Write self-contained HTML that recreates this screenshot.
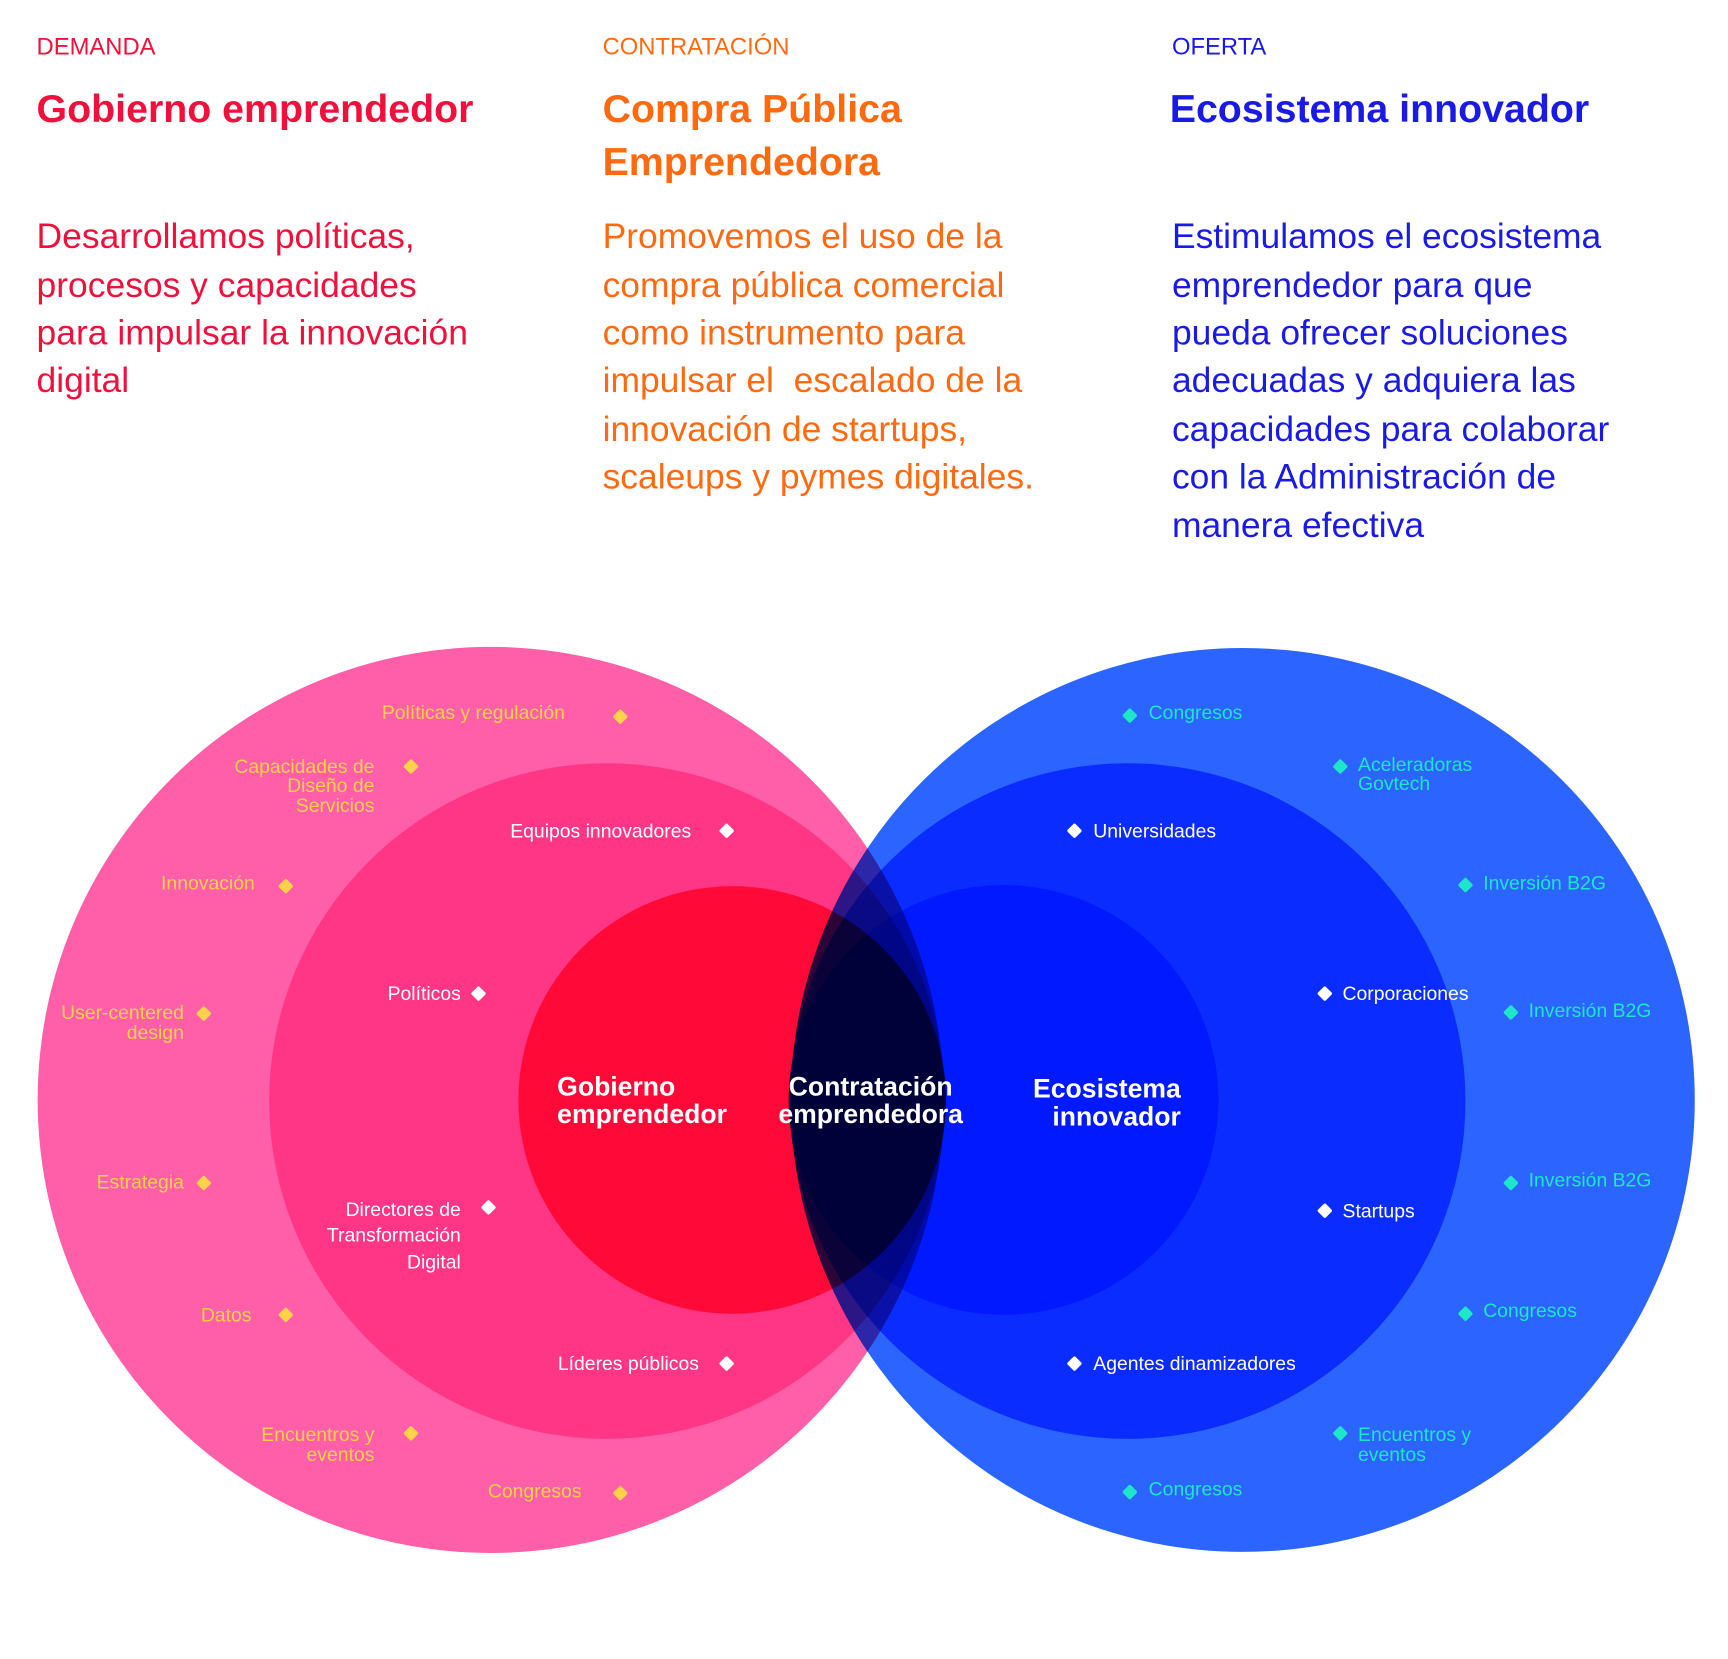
<!DOCTYPE html>
<html><head><meta charset="utf-8"><style>
html,body{margin:0;padding:0;background:#fff;}
svg{display:block;}
text{font-family:"Liberation Sans",sans-serif;}
</style></head><body>
<svg width="1728" height="1659" viewBox="0 0 1560 1497.7" xmlns="http://www.w3.org/2000/svg">
<rect width="1560" height="1498" fill="#fff"/>
<!-- header -->
<g font-size="21.5">
<text x="33" y="49" fill="#f0103c">DEMANDA</text>
<text x="544" y="49" fill="#ff6a10">CONTRATACIÓN</text>
<text x="1058" y="49" fill="#1a1ae6">OFERTA</text>
</g>
<g font-size="35.5" font-weight="bold">
<text x="33" y="110" fill="#f0103c">Gobierno emprendedor</text>
<text x="544" y="110" fill="#ff6a10">Compra Pública</text>
<text x="544" y="158" fill="#ff6a10">Emprendedora</text>
<text x="1056" y="110" fill="#1a1ae6">Ecosistema innovador</text>
</g>
<g font-size="32">
<g fill="#f0103c">
<text x="33" y="224">Desarrollamos políticas,</text>
<text x="33" y="268">procesos y capacidades</text>
<text x="33" y="311">para impulsar la innovación</text>
<text x="33" y="354">digital</text>
</g>
<g fill="#ff6a10">
<text x="544" y="224">Promovemos el uso de la</text>
<text x="544" y="268">compra pública comercial</text>
<text x="544" y="311">como instrumento para</text>
<text x="544" y="354" xml:space="preserve">impulsar el  escalado de la</text>
<text x="544" y="398">innovación de startups,</text>
<text x="544" y="441">scaleups y pymes digitales.</text>
</g>
<g fill="#1a1ae6">
<text x="1058" y="224">Estimulamos el ecosistema</text>
<text x="1058" y="268">emprendedor para que</text>
<text x="1058" y="311">pueda ofrecer soluciones</text>
<text x="1058" y="354">adecuadas y adquiera las</text>
<text x="1058" y="398">capacidades para colaborar</text>
<text x="1058" y="441">con la Administración de</text>
<text x="1058" y="485">manera efectiva</text>
</g>
</g>
<!-- circles -->
<g>
<circle cx="443" cy="993" r="409" fill="#ff5fa8"/>
<circle cx="548" cy="994" r="305" fill="#ff3585"/>
<circle cx="661" cy="993" r="193" fill="#ff0a38"/>
</g>
<g style="mix-blend-mode:multiply">
<circle cx="1122" cy="993" r="408" fill="#2c64ff"/>
<circle cx="1018" cy="994" r="305" fill="#0a2cff"/>
<circle cx="906" cy="993" r="194" fill="#0019ff"/>
</g>
<!-- center labels -->
<g font-size="24" font-weight="bold" fill="#fff">
<text x="503" y="989">Gobierno</text>
<text x="503" y="1014">emprendedor</text>
<text x="786" y="989" text-anchor="middle">Contratación</text>
<text x="786" y="1014" text-anchor="middle">emprendedora</text>
<text x="1066" y="991" text-anchor="end">Ecosistema</text>
<text x="1066" y="1016" text-anchor="end">innovador</text>
</g>
<!-- yellow labels -->
<g font-size="17.5" fill="#ffd24a" text-anchor="end">
<text x="510" y="649">Políticas y regulación</text>
<text x="338" y="698">Capacidades de</text>
<text x="338" y="715">Diseño de</text>
<text x="338" y="733">Servicios</text>
<text x="230" y="803">Innovación</text>
<text x="166" y="920">User-centered</text>
<text x="166" y="938">design</text>
<text x="166" y="1073">Estrategia</text>
<text x="227" y="1193">Datos</text>
<text x="338" y="1301">Encuentros y</text>
<text x="338" y="1319">eventos</text>
<text x="525" y="1352">Congresos</text>
</g>
<g fill="#ffd24a">
<rect x="-5" y="-5" width="10" height="10" rx="1.5" transform="translate(560,647) rotate(45)"/>
<rect x="-5" y="-5" width="10" height="10" rx="1.5" transform="translate(371,692) rotate(45)"/>
<rect x="-5" y="-5" width="10" height="10" rx="1.5" transform="translate(258,800) rotate(45)"/>
<rect x="-5" y="-5" width="10" height="10" rx="1.5" transform="translate(184,915) rotate(45)"/>
<rect x="-5" y="-5" width="10" height="10" rx="1.5" transform="translate(184,1068) rotate(45)"/>
<rect x="-5" y="-5" width="10" height="10" rx="1.5" transform="translate(258,1187) rotate(45)"/>
<rect x="-5" y="-5" width="10" height="10" rx="1.5" transform="translate(371,1294) rotate(45)"/>
<rect x="-5" y="-5" width="10" height="10" rx="1.5" transform="translate(560,1348) rotate(45)"/>
</g>
<!-- white labels -->
<g font-size="17.5" fill="#fff" text-anchor="end">
<text x="624" y="756">Equipos innovadores</text>
<text x="416" y="903">Políticos</text>
<text x="416" y="1098">Directores de</text>
<text x="416" y="1121">Transformación</text>
<text x="416" y="1145">Digital</text>
<text x="631" y="1237">Líderes públicos</text>
</g>
<g font-size="17.5" fill="#fff">
<text x="987" y="756">Universidades</text>
<text x="1212" y="903">Corporaciones</text>
<text x="1212" y="1099">Startups</text>
<text x="987" y="1237">Agentes dinamizadores</text>
</g>
<g fill="#fff">
<rect x="-5" y="-5" width="10" height="10" rx="1.5" transform="translate(656,750) rotate(45)"/>
<rect x="-5" y="-5" width="10" height="10" rx="1.5" transform="translate(432,897) rotate(45)"/>
<rect x="-5" y="-5" width="10" height="10" rx="1.5" transform="translate(441,1090) rotate(45)"/>
<rect x="-5" y="-5" width="10" height="10" rx="1.5" transform="translate(656,1231) rotate(45)"/>
<rect x="-5" y="-5" width="10" height="10" rx="1.5" transform="translate(970,750) rotate(45)"/>
<rect x="-5" y="-5" width="10" height="10" rx="1.5" transform="translate(1196,897) rotate(45)"/>
<rect x="-5" y="-5" width="10" height="10" rx="1.5" transform="translate(1196,1093) rotate(45)"/>
<rect x="-5" y="-5" width="10" height="10" rx="1.5" transform="translate(970,1231) rotate(45)"/>
</g>
<!-- teal labels -->
<g font-size="17.5" fill="#1ee6c8">
<text x="1037" y="649">Congresos</text>
<text x="1226" y="696">Aceleradoras</text>
<text x="1226" y="713">Govtech</text>
<text x="1339" y="803">Inversión B2G</text>
<text x="1380" y="918">Inversión B2G</text>
<text x="1380" y="1071">Inversión B2G</text>
<text x="1339" y="1189">Congresos</text>
<text x="1226" y="1301">Encuentros y</text>
<text x="1226" y="1319">eventos</text>
<text x="1037" y="1350">Congresos</text>
</g>
<g fill="#1ee6c8">
<rect x="-5" y="-5" width="10" height="10" rx="1.5" transform="translate(1020,646) rotate(45)"/>
<rect x="-5" y="-5" width="10" height="10" rx="1.5" transform="translate(1210,692) rotate(45)"/>
<rect x="-5" y="-5" width="10" height="10" rx="1.5" transform="translate(1323,799) rotate(45)"/>
<rect x="-5" y="-5" width="10" height="10" rx="1.5" transform="translate(1364,914) rotate(45)"/>
<rect x="-5" y="-5" width="10" height="10" rx="1.5" transform="translate(1364,1068) rotate(45)"/>
<rect x="-5" y="-5" width="10" height="10" rx="1.5" transform="translate(1323,1186) rotate(45)"/>
<rect x="-5" y="-5" width="10" height="10" rx="1.5" transform="translate(1210,1294) rotate(45)"/>
<rect x="-5" y="-5" width="10" height="10" rx="1.5" transform="translate(1020,1347) rotate(45)"/>
</g>
</svg>
</body></html>
